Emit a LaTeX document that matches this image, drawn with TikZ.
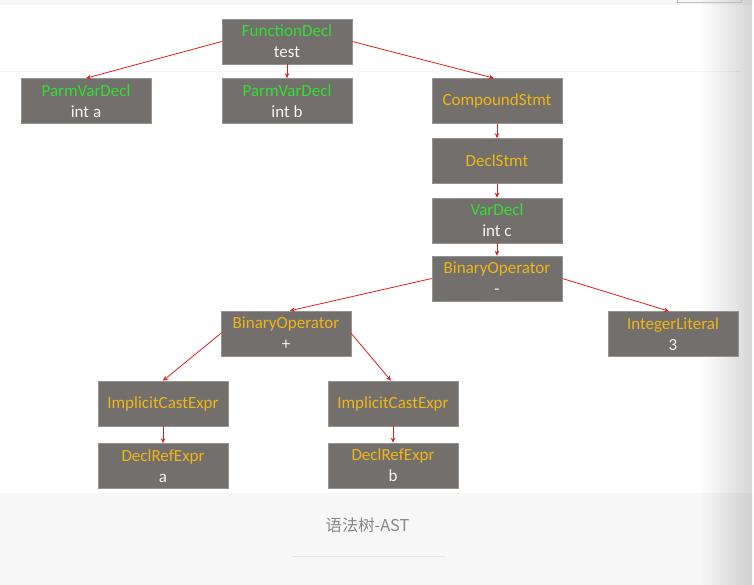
\documentclass[tikz,border=0pt]{standalone}
\usepackage{fontspec}
\setmainfont{Carlito}
\newfontfamily\cjk{Noto Sans CJK SC}
\usetikzlibrary{arrows.meta,fadings}
\tikzfading[name=edgefade, left color=transparent!100, right color=transparent!0]
\definecolor{boxgray}{RGB}{114,111,109}
\definecolor{nodegreen}{RGB}{52,222,52}
\definecolor{nodeorange}{RGB}{240,182,20}
\definecolor{nodewhite}{RGB}{245,245,245}
\definecolor{arrred}{RGB}{225,30,30}
\definecolor{capgray}{RGB}{135,135,135}
\tikzset{
  astbox/.style={rectangle, fill=boxgray, draw=boxgray!75!white, line width=0.6pt,
    minimum width=130pt, minimum height=45pt, inner sep=0pt, align=center,
    text=nodewhite, font=\fontsize{17}{21}\selectfont},
  arr/.style={draw=arrred, line width=0.8pt, -{Stealth[length=5pt,width=4.5pt]}}
}
\newcommand{\gr}[1]{\textcolor{nodegreen}{#1}}
\newcommand{\og}[1]{\textcolor{nodeorange}{#1}}
\begin{document}
\begin{tikzpicture}[x=1pt,y=-1pt]
\useasboundingbox (0,0) rectangle (754,585);
\fill[white] (0,0) rectangle (754,585);
\fill[black!3] (0,0) rectangle (754,5);
\fill[black!3] (0,493) rectangle (754,585);
\draw[black!4, line width=0.6pt] (0,71) -- (740,71);
\fill[black, opacity=0.16, path fading=edgefade] (700,0) rectangle (752,585);
\fill[white] (752.5,0) rectangle (754,585);
\draw[black!25, line width=0.5pt] (677,-2) rectangle (741,2);
\draw[black!10, line width=0.6pt] (292,556) -- (445,556);
\node[text=capgray, font=\cjk\fontsize{16.3}{18}\selectfont] (cap) at (367.5,525) {语法树-AST};

\node[astbox] (fd) at (287,41.5) {\gr{FunctionDecl}\\test};
\node[astbox] (pa) at (86,101) {\gr{ParmVarDecl}\\int a};
\node[astbox] (pb) at (287,101) {\gr{ParmVarDecl}\\int b};
\node[astbox] (cs) at (497,101) {\og{CompoundStmt}};
\node[astbox] (ds) at (497,161) {\og{DeclStmt}};
\node[astbox] (vd) at (497,220.5) {\gr{VarDecl}\\int c};
\node[astbox] (bm) at (497,278.5) {\og{BinaryOperator}\\-};
\node[astbox] (bp) at (286,333.5) {\og{BinaryOperator}\\+};
\node[astbox] (il) at (673,334) {\og{IntegerLiteral}\\3};
\node[astbox] (ia) at (163,403.5) {\og{ImplicitCastExpr}};
\node[astbox] (ra) at (163,466) {\og{DeclRefExpr}\\a};
\node[astbox] (ib) at (393,403.5) {\og{ImplicitCastExpr}};
\node[astbox] (rb) at (393,465.5) {\og{DeclRefExpr}\\b};

\draw[arr] (fd.west) -- (pa.north);
\draw[arr] (fd.south) -- (pb.north);
\draw[arr] (fd.east) -- ([xshift=-3pt]cs.north);
\draw[arr] (cs.south) -- (ds.north);
\draw[arr] (ds.south) -- (vd.north);
\draw[arr] (vd.south) -- (bm.north);
\draw[arr] (bm.west) -- ([xshift=4pt]bp.north);
\draw[arr] (bm.east) -- ([xshift=-4pt]il.north);
\draw[arr] (bp.west) -- (ia.north);
\draw[arr] (bp.east) -- ([xshift=-2pt]ib.north);
\draw[arr] (ia.south) -- (ra.north);
\draw[arr] (ib.south) -- (rb.north);
\end{tikzpicture}
\end{document}
